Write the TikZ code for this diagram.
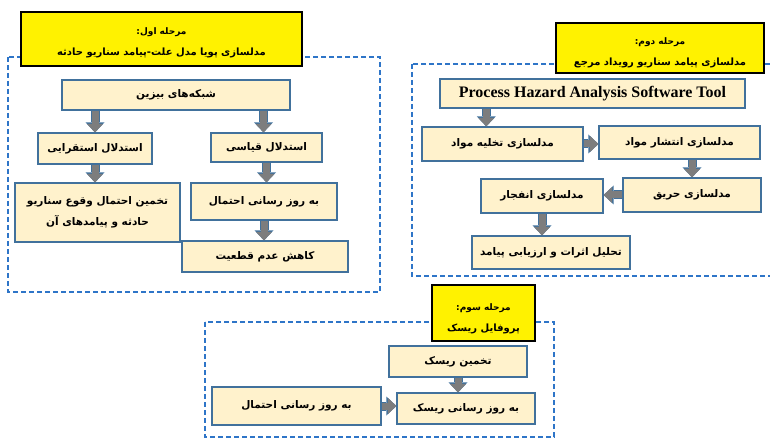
\documentclass[tikz,border=0pt]{standalone}
\usepackage{fontspec}
\newfontfamily\fa[Script=Arabic]{DejaVu Sans}
\newfontfamily\en{Liberation Serif}
\TeXXeTstate=1
\usetikzlibrary{arrows.meta,calc}
\definecolor{boxfill}{RGB}{255,242,204}
\definecolor{boxline}{RGB}{65,113,156}
\definecolor{frameblue}{RGB}{46,117,200}
\definecolor{arrowgray}{RGB}{125,125,125}

\begin{document}
\begin{tikzpicture}[x=1pt,y=-1pt,
	box/.style={draw=boxline, line width=1.2pt, fill=boxfill, inner sep=0pt, align=center, font=\fa\bfseries\fontsize{10.5}{21}\selectfont},
	stage/.style={draw=black, line width=1.8pt, fill=yellow, inner sep=0pt, align=center, font=\fa\bfseries\fontsize{10}{21}\selectfont},
	frame/.style={draw=frameblue, line width=1.4pt, dash pattern=on 5pt off 3pt},
	fat/.style={draw=arrowgray, line width=7pt, -{Triangle[width=16pt,length=8.5pt,line width=0pt]},
		preaction={draw=boxline, line width=9pt, -{Triangle[width=19pt,length=10pt,line width=0pt]}}}]
	\useasboundingbox (0,0) rectangle (770,438);
	
	% dashed frames of the three stages
	\draw[frame] (8,57) rectangle (380,292);
	\draw[frame] (412,64) rectangle (775,276);
	\draw[frame] (205,322) rectangle (554,437);
	
	% stage 1
	\node[stage, minimum width=281pt, minimum height=54pt] (st1) at (161.5,39)
	{{\fontsize{9}{11}\selectfont\rule{0pt}{14pt}\beginR مرحله اول:\endR}\\\beginR مدلسازی پویا مدل علت-پیامد سناریو حادثه\endR};
	\node[box, minimum width=228pt, minimum height=30pt] (bayes) at (176,95) {\beginR شبکه‌های بیزین\endR};
	\node[box, minimum width=114pt, minimum height=31pt] (induct) at (95,148.5) {\beginR استدلال استقرایی\endR};
	\node[box, minimum width=111pt, minimum height=29pt] (deduct) at (266.5,147.5) {\beginR استدلال قیاسی\endR};
	\node[box, minimum width=165pt, minimum height=59pt] (estim) at (97.5,212.5)
	{\beginR تخمین احتمال وقوع سناریو\endR\\\beginR حادثه و پیامدهای آن\endR};
	\node[box, minimum width=146pt, minimum height=37pt] (probupd) at (264,201.5) {\beginR به روز رسانی احتمال\endR};
	\node[box, minimum width=166pt, minimum height=31pt] (uncert) at (265,256.5) {\beginR کاهش عدم قطعیت\endR};
	
	\draw[fat] (bayes.south -| induct) -- (induct.north);
	\draw[fat] ([xshift=-3pt]bayes.south -| deduct) -- ([xshift=-3pt]deduct.north);
	\draw[fat] (induct.south) -- (induct.south |- estim.north);
	\draw[fat] (deduct.south) -- (deduct.south |- probupd.north);
	\draw[fat] (probupd.south) -- (probupd.south |- uncert.north);
	
	% stage 2
	\node[stage, minimum width=208pt, minimum height=50pt] (st2) at (660,48)
	{{\fontsize{9}{11}\selectfont\rule{0pt}{16pt}\beginR مرحله دوم:\endR}\\\beginR مدلسازی پیامد سناریو رویداد مرجع\endR};
	\node[box, minimum width=305pt, minimum height=29pt, font=\en\bfseries\fontsize{16}{18}\selectfont] (pha) at (592.5,93.5) {Process Hazard Analysis Software Tool};
	\node[box, minimum width=161pt, minimum height=34pt] (disch) at (502.5,144) {\beginR مدلسازی تخلیه مواد\endR};
	\node[box, minimum width=161pt, minimum height=33pt] (disp) at (679.5,142.5) {\beginR مدلسازی انتشار مواد\endR};
	\node[box, minimum width=138pt, minimum height=34pt] (fire) at (692,195) {\beginR مدلسازی حریق\endR};
	\node[box, minimum width=122pt, minimum height=34pt] (expl) at (542,196) {\beginR مدلسازی انفجار\endR};
	\node[box, minimum width=158pt, minimum height=33pt] (effect) at (551,252.5) {\beginR تحلیل اثرات و ارزیابی پیامد\endR};
	\coordinate (dischin) at ($(disch.north west)!0.4!(disch.north east)$);
	
	\draw[fat] (dischin |- pha.south) -- (dischin);
	\draw[fat] (disch.east) -- (disch.east -| disp.west);
	\draw[fat] (disp.south -| fire) -- (fire.north);
	\draw[fat] (fire.west) -- (fire.west -| expl.east);
	\draw[fat] (expl.south) -- (expl.south |- effect.north);
	
	% stage 3
	\node[stage, minimum width=103pt, minimum height=56pt] (st3) at (483.5,313)
	{{\fontsize{9}{11}\selectfont\rule{0pt}{18pt}\beginR مرحله سوم:\endR}\\\beginR پروفایل ریسک\endR};
	\node[box, minimum width=138pt, minimum height=31pt] (riskest) at (458,361.5) {\beginR تخمین ریسک\endR};
	\node[box, minimum width=138pt, minimum height=31pt] (riskupd) at (466,408.5) {\beginR به روز رسانی ریسک\endR};
	\node[box, minimum width=169pt, minimum height=38pt] (probupd2) at (296.5,406) {\beginR به روز رسانی احتمال\endR};
	
	\draw[fat] (riskest.south) -- (riskest.south |- riskupd.north);
	\draw[fat] (probupd2.east) -- (probupd2.east -| riskupd.west);
\end{tikzpicture}
\end{document}
